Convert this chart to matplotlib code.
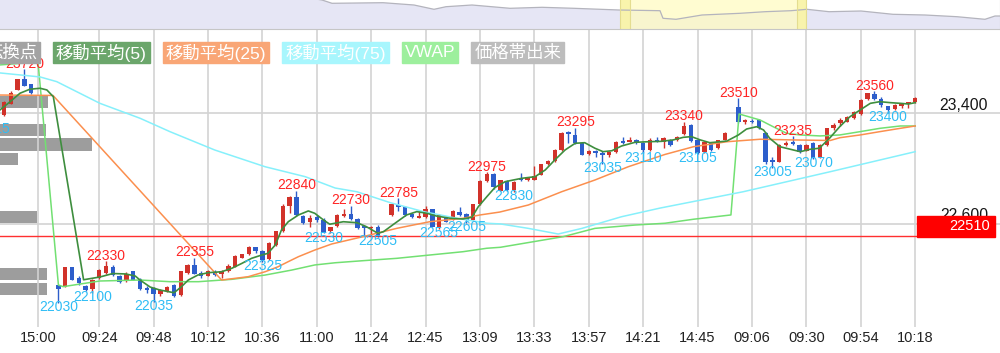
import matplotlib
matplotlib.use("Agg")
import matplotlib.pyplot as plt
from matplotlib.patches import Rectangle
from matplotlib.transforms import blended_transform_factory

plt.rcParams['font.family'] = ['Liberation Sans', 'Noto Sans CJK JP', 'DejaVu Sans']

# ---- data -------------------------------------------------------------
# x = 3-minute slot index (slot 0 = 15:00 of the first day shown)
day1_slots = list(range(-5, 0))
day1_ohlc = [(23390, 23490, 23380, 23480), (23470, 23560, 23465, 23550),
             (23570, 23650, 23565, 23645), (23645, 23720, 23595, 23600),
             (23610, 23615, 23540, 23545)]

day2am_slots = list(range(3, 51))
day2am_ohlc = [
    (22155, 22160, 22030, 22125), (22145, 22290, 22140, 22285), (22285, 22290, 22190, 22195),
    (22205, 22225, 22160, 22170), (22150, 22160, 22110, 22120), (22125, 22200, 22100, 22195),
    (22205, 22270, 22200, 22265), (22245, 22330, 22240, 22295), (22285, 22300, 22225, 22230),
    (22220, 22230, 22170, 22180), (22190, 22250, 22180, 22240), (22255, 22260, 22190, 22195),
    (22200, 22205, 22120, 22125), (22135, 22150, 22100, 22120), (22135, 22140, 22035, 22095),
    (22095, 22125, 22080, 22120), (22110, 22150, 22105, 22145), (22155, 22165, 22070, 22075),
    (22085, 22260, 22075, 22255), (22245, 22310, 22240, 22305), (22305, 22355, 22235, 22240),
    (22245, 22260, 22205, 22225), (22225, 22265, 22220, 22260), (22250, 22265, 22220, 22230),
    (22240, 22265, 22210, 22260), (22255, 22310, 22250, 22295), (22290, 22375, 22285, 22365),
    (22355, 22385, 22350, 22380), (22380, 22440, 22375, 22435), (22430, 22435, 22390, 22405),
    (22400, 22410, 22325, 22340), (22345, 22465, 22340, 22460), (22445, 22550, 22440, 22545),
    (22545, 22740, 22540, 22730), (22730, 22800, 22680, 22795), (22795, 22840, 22660, 22665),
    (22655, 22665, 22600, 22605), (22615, 22665, 22580, 22645), (22650, 22665, 22615, 22625),
    (22625, 22640, 22530, 22535), (22545, 22580, 22535, 22575), (22585, 22670, 22580, 22665),
    (22655, 22710, 22650, 22670), (22670, 22730, 22630, 22635), (22635, 22640, 22565, 22570),
    (22585, 22590, 22510, 22570), (22570, 22585, 22510, 22580), (22580, 22590, 22505, 22510)]

day2pm_slots = list(range(52, 102))
day2pm_ohlc = [
    (22665, 22745, 22660, 22740), (22735, 22785, 22690, 22720), (22725, 22730, 22660, 22665),
    (22670, 22680, 22645, 22650), (22645, 22690, 22640, 22660), (22650, 22730, 22645, 22705),
    (22705, 22710, 22575, 22580), (22575, 22670, 22565, 22665), (22640, 22650, 22610, 22615),
    (22630, 22700, 22625, 22690), (22685, 22720, 22660, 22665), (22670, 22675, 22605, 22630),
    (22630, 22745, 22625, 22740), (22740, 22915, 22735, 22910), (22910, 22975, 22905, 22960),
    (22960, 22965, 22850, 22865), (22835, 22920, 22835, 22915), (22910, 22915, 22835, 22845),
    (22845, 22910, 22830, 22905), (22935, 22970, 22910, 22915), (22915, 22940, 22910, 22935),
    (22920, 23015, 22915, 22945), (22955, 23035, 22950, 23030), (23030, 23060, 23025, 23055),
    (23055, 23140, 23050, 23135), (23135, 23265, 23130, 23260), (23265, 23270, 23185, 23250),
    (23245, 23295, 23180, 23185), (23185, 23190, 23095, 23100), (23105, 23135, 23100, 23125),
    (23125, 23135, 23085, 23115), (23115, 23125, 23035, 23100), (23100, 23130, 23080, 23120),
    (23120, 23200, 23115, 23195), (23200, 23225, 23180, 23185), (23195, 23230, 23190, 23210),
    (23205, 23215, 23180, 23185), (23185, 23190, 23110, 23135), (23135, 23220, 23130, 23210),
    (23210, 23230, 23190, 23195), (23195, 23225, 23150, 23220), (23210, 23215, 23165, 23170),
    (23205, 23235, 23200, 23225), (23250, 23340, 23245, 23305), (23315, 23320, 23195, 23200),
    (23205, 23210, 23105, 23115), (23120, 23200, 23110, 23195), (23185, 23195, 23125, 23135),
    (23150, 23210, 23140, 23205), (23210, 23265, 23205, 23260)]

day3_slots = list(range(103, 130))
day3_ohlc = [
    (23445, 23510, 23330, 23335), (23335, 23360, 23325, 23350), (23345, 23355, 23330, 23335),
    (23350, 23355, 23285, 23290), (23260, 23265, 23030, 23050), (23065, 23085, 23005, 23050),
    (23050, 23175, 23045, 23170), (23170, 23200, 23160, 23185), (23195, 23235, 23170, 23180),
    (23170, 23175, 23115, 23120), (23130, 23180, 23125, 23170), (23185, 23190, 23070, 23075),
    (23085, 23175, 23075, 23170), (23170, 23295, 23165, 23290), (23290, 23330, 23280, 23315),
    (23330, 23365, 23310, 23350), (23340, 23380, 23335, 23370), (23365, 23415, 23360, 23410),
    (23395, 23500, 23390, 23495), (23500, 23550, 23495, 23545), (23540, 23560, 23495, 23505),
    (23500, 23520, 23445, 23460), (23450, 23455, 23400, 23425), (23430, 23465, 23425, 23460),
    (23455, 23475, 23440, 23465), (23465, 23485, 23435, 23480), (23480, 23520, 23475, 23510)]

# indicator lines, vertices (slot, price)
ma5 = [(-5.6, 23424), (-4.1, 23484), (-2.65, 23545), (-1.2, 23574), (0.3, 23581), (1.3, 23569),
       (2.25, 23520), (6.7, 22195), (9.1, 22215), (11.0, 22240), (12.9, 22237), (14.3, 22222),
       (15.0, 22193), (16.5, 22142), (17.9, 22121), (20.0, 22101), (21.1, 22145), (22.1, 22193),
       (23.5, 22229), (25.0, 22246), (27.0, 22253), (28.5, 22278), (30.0, 22314), (31.4, 22350),
       (32.9, 22374), (33.8, 22386), (34.9, 22447), (35.8, 22555), (36.8, 22615), (38.3, 22664),
       (39.75, 22693), (40.7, 22676), (42.0, 22627), (42.9, 22597), (44.9, 22615), (46.9, 22608),
       (48.3, 22579), (50.0, 22531), (50.8, 22543), (52.5, 22604), (54.2, 22664), (55.7, 22688),
       (57.2, 22676), (58.6, 22656), (60.6, 22640), (62.5, 22635), (63.8, 22647), (64.75, 22724),
       (66.0, 22796), (67.2, 22863), (68.7, 22905), (71.1, 22929), (73.1, 22941), (74.6, 22990),
       (76.0, 23062), (77.5, 23134), (79.0, 23183), (80.4, 23187), (81.9, 23147), (83.1, 23122),
       (84.4, 23129), (85.8, 23163), (87.8, 23190), (89.75, 23194), (91.7, 23197), (93.4, 23207),
       (94.9, 23226), (96.1, 23231), (97.4, 23207), (98.8, 23187), (100.3, 23194), (101.3, 23199),
       (103.0, 23243), (104.2, 23286), (105.7, 23303), (106.7, 23279), (107.6, 23219),
       (109.1, 23158), (111.1, 23134), (112.1, 23122), (113.5, 23139), (114.9, 23147),
       (116.4, 23219), (117.9, 23303), (119.4, 23375), (120.9, 23424), (122.4, 23472),
       (123.8, 23484), (125.3, 23477), (126.8, 23472), (128.0, 23467), (129.0, 23477)]
ma25 = [(-5.6, 23532), (2.2, 23529), (27.0, 22193), (30.9, 22217), (33.4, 22253), (35.3, 22289),
        (36.8, 22326), (38.3, 22362), (40.7, 22410), (43.2, 22454), (47.8, 22507), (52.75, 22567),
        (57.6, 22615), (62.5, 22640), (65.0, 22664), (67.9, 22685), (72.1, 22736), (77.0, 22832),
        (81.9, 22917), (86.8, 23013), (92.2, 23102), (96.4, 23158), (101.3, 23194), (106.2, 23212),
        (111.1, 23207), (116.5, 23203), (117.9, 23223), (120.9, 23243), (123.8, 23267),
        (126.8, 23291), (129.0, 23308)]
ma75 = [(-5.6, 23692), (0.3, 23663), (2.75, 23629), (9.1, 23472), (15.0, 23364), (19.4, 23267),
        (26.0, 23134), (33.4, 23013), (39.3, 22941), (43.7, 22859), (46.9, 22832), (51.8, 22753),
        (56.7, 22688), (61.6, 22640), (66.0, 22604), (68.0, 22599), (72.1, 22567), (76.5, 22526),
        (80.0, 22567), (85.8, 22651), (91.5, 22714), (103.7, 22832), (116.5, 22977), (129.0, 23122)]
vwap = [(-5.6, 23750), (0.0, 23771), (3.0, 22157), (3.7, 22145), (9.1, 22186), (15.0, 22193),
        (19.4, 22181), (23.6, 22181), (28.5, 22198), (33.4, 22229), (37.3, 22265), (40.7, 22302),
        (43.7, 22318), (47.8, 22333), (52.75, 22350), (57.6, 22374), (62.5, 22398), (66.0, 22423),
        (68.0, 22430), (77.25, 22507), (81.9, 22567), (87.8, 22591), (92.2, 22604), (96.4, 22633),
        (101.9, 22664), (103.1, 23395), (106.2, 23351), (108.1, 23303), (110.1, 23255),
        (112.1, 23243), (115.0, 23236), (117.9, 23243), (120.9, 23267), (123.8, 23291),
        (126.8, 23308), (129.0, 23308)]

high_marks = [(-2, 23720), (10, 22330), (23, 22355), (38, 22840), (46, 22730), (53, 22785),
              (66, 22975), (79, 23295), (95, 23340), (103, 23510), (111, 23235), (123, 23560)]
low_marks = [(-7, 23315), (3, 22030), (8, 22100), (17, 22035), (33, 22325), (42, 22530),
             (50, 22505), (59, 22565), (63, 22605), (70, 22830), (83, 23035), (89, 23110),
             (97, 23105), (108, 23005), (114, 23070), (125, 23400)]

# price-band volume (価格帯出来)
vp_price = [23480, 23280, 23175, 23070, 22650, 22235, 22130]
vp_volume = [48, 46, 92, 18, 37, 47, 47]

prev_close = 22510
price_grid = [23400, 22600]
tick_slots = [-8, 0, 9, 17, 25, 33, 41, 49, 57, 65, 73, 81, 89, 97, 105, 113, 121, 129]
tick_labels = ["14:36", "15:00", "09:24", "09:48", "10:12", "10:36", "11:00", "11:24", "12:45",
               "13:09", "13:33", "13:57", "14:21", "14:45", "09:06", "09:30", "09:54", "10:18"]

legend_names = ["転換点", "移動平均(5)", "移動平均(25)", "移動平均(75)", "VWAP", "価格帯出来"]
legend_colors = ["#a3a3a3", "#6ba66b", "#f9a676", "#a8f6fd", "#9def9d", "#bdbdbd"]

# navigator (overview strip): position along strip, level
nav_pos = [0, 310, 322, 332, 383, 414, 434, 446, 472, 510, 542, 574, 619, 660, 663, 676, 702,
           740, 765, 791, 807, 829, 861, 893, 925, 957, 985, 995, 1000]
nav_level = [33, 31, 29, 25.7, 26.3, 24, 19.7, 22.3, 24, 20.7, 21.7, 20.7, 19, 18.3, 10.7, 9.7,
             14, 15.7, 17.3, 18.3, 19.7, 17.3, 18, 14.7, 14, 12.3, 9.7, 13, 13]

# ---- figure -------------------------------------------------------------
W, H = 1000, 353
fig = plt.figure(figsize=(W / 100, H / 100), dpi=100)
fig.patch.set_facecolor("white")


def px_rect(x0, y0, x1, y1):
    return [x0 / W, 1 - y1 / H, (x1 - x0) / W, (y1 - y0) / H]


ax = fig.add_axes(px_rect(0, 29, 1000, 327))
nav = fig.add_axes(px_rect(0, 0, 1000, 29))

ax.set_xlim(-5.59, 141.47)
ax.set_ylim(21853, 24010)
for s in ax.spines.values():
    s.set_visible(False)
ax.set_xticks([])
ax.set_yticks([])
ax.patch.set_visible(False)

# volume profile on its own x scale, drawn underneath the candles
vax = ax.twiny()
vax.set_xlim(0, 1000)
vax.set_zorder(ax.get_zorder() - 1)
vax.barh(vp_price, vp_volume, height=90, left=0, color="#9d9d9d", zorder=1)
vax.axis("off")

for t in tick_slots:
    ax.axvline(t, color="#d3d3d3", lw=1.2, zorder=0)
for p in price_grid:
    ax.axhline(p, color="#d3d3d3", lw=1.2, zorder=0)

# candles
slots, o, h, l, c = [], [], [], [], []
for ss, rows in [(day1_slots, day1_ohlc), (day2am_slots, day2am_ohlc),
                 (day2pm_slots, day2pm_ohlc), (day3_slots, day3_ohlc)]:
    for s, (op, hi, lo, cl) in zip(ss, rows):
        slots.append(s); o.append(op); h.append(hi); l.append(lo); c.append(cl)

up_col, dn_col = "#d1322a", "#2d5ecb"
cols = [up_col if cl >= op else dn_col for op, cl in zip(o, c)]
body_h = [max(abs(cl - op), 8) for op, cl in zip(o, c)]
body_b = [min(op, cl) - (8 - abs(cl - op)) / 2 if abs(cl - op) < 8 else min(op, cl)
          for op, cl in zip(o, c)]
ax.vlines(slots, l, h, colors=cols, lw=1.0, zorder=3)
ax.bar(slots, body_h, bottom=body_b, width=0.66, color=cols, lw=0, zorder=3.1)

# indicator lines
for pts, col, lw in [(vwap, "#72e072", 1.1), (ma75, "#86f0fb", 1.1),
                     (ma25, "#fb8f4e", 1.1), (ma5, "#3e8e3e", 1.2)]:
    xs, ys = zip(*pts)
    ax.plot(xs, ys, color=col, lw=lw, zorder=4, solid_joinstyle="round")

# previous close line and tag
ax.axhline(prev_close, xmax=0.917, color="#ff3030", lw=1.0, zorder=2)
bt = blended_transform_factory(ax.transAxes, ax.transData)
ax.add_patch(Rectangle((0.917, prev_close - 3), 0.078, 152, transform=bt,
                       color="#ff0000", zorder=8, clip_on=False))
ax.text(0.99, prev_close + 72, f"{prev_close}", transform=bt, ha="right", va="center",
        color="white", fontsize=10.5, zorder=9)

for p in price_grid:
    ax.annotate(f"{p:,}", xy=(0.988, p), xycoords=bt, xytext=(0, 2.5),
                textcoords="offset points", ha="right", va="baseline",
                fontsize=11.3, color="#151515", zorder=7)

# high / low markers
for s, v in high_marks:
    ax.annotate(str(v), xy=(s, v), xytext=(0, 1), textcoords="offset points",
                ha="center", va="baseline", fontsize=10, color="#ff2424", zorder=6,
                annotation_clip=False)
for s, v in low_marks:
    ax.annotate(str(v), xy=(s, v), xytext=(0, 2), textcoords="offset points",
                ha="center", va="top", fontsize=10, color="#2fbdf5", zorder=6,
                annotation_clip=False)

# time labels
tt = blended_transform_factory(ax.transData, ax.transAxes)
for s, lab in zip(tick_slots, tick_labels):
    ax.text(s, -0.037, lab, transform=tt, ha="center", va="center",
            fontsize=10.5, color="#222222", clip_on=False)

# legend chips, laid out left to right, the first one runs off the left edge
fig.canvas.draw()
rend = fig.canvas.get_renderer()
yc = 1 - 52.5 / H
right = 40
texts = []
for name in legend_names:
    t = fig.text(0, yc, name, ha="left", va="center", color="white", fontsize=12.5, zorder=11)
    texts.append((t, t.get_window_extent(rend).width))
x = right - (texts[0][1] + 6)
for (t, w), col in zip(texts, legend_colors):
    fig.patches.append(Rectangle(((x) / W, 1 - 63 / H), (w + 6) / W, 21 / H,
                                 transform=fig.transFigure, color=col, zorder=10))
    t.set_x((x + 3) / W)
    x += w + 6 + 13

# navigator
nav.set_xlim(0, 1000)
nav.set_ylim(0, 29)
nav.fill_between(nav_pos, nav_level, 0, color="#e6e6f5", lw=0)
nav.plot(nav_pos, nav_level, color="#b4b4bd", lw=0.9)
nav.axvspan(620, 806, color="#fffbc2", alpha=0.75, lw=0)
nav.axvspan(620, 629.5, color="#f8f3a6", alpha=0.85, lw=0)
nav.axvspan(797, 806, color="#f8f3a6", alpha=0.85, lw=0)
for xv in (620, 629.5, 797, 806):
    nav.axvline(xv, color="#e4dd90", lw=0.8)
nav.set_xticks([])
nav.set_yticks([])
for k, s in nav.spines.items():
    s.set_visible(k in ("bottom", "right"))
    s.set_color("#c6c6c6")

fig.savefig("out.png", dpi=100, facecolor="white")
